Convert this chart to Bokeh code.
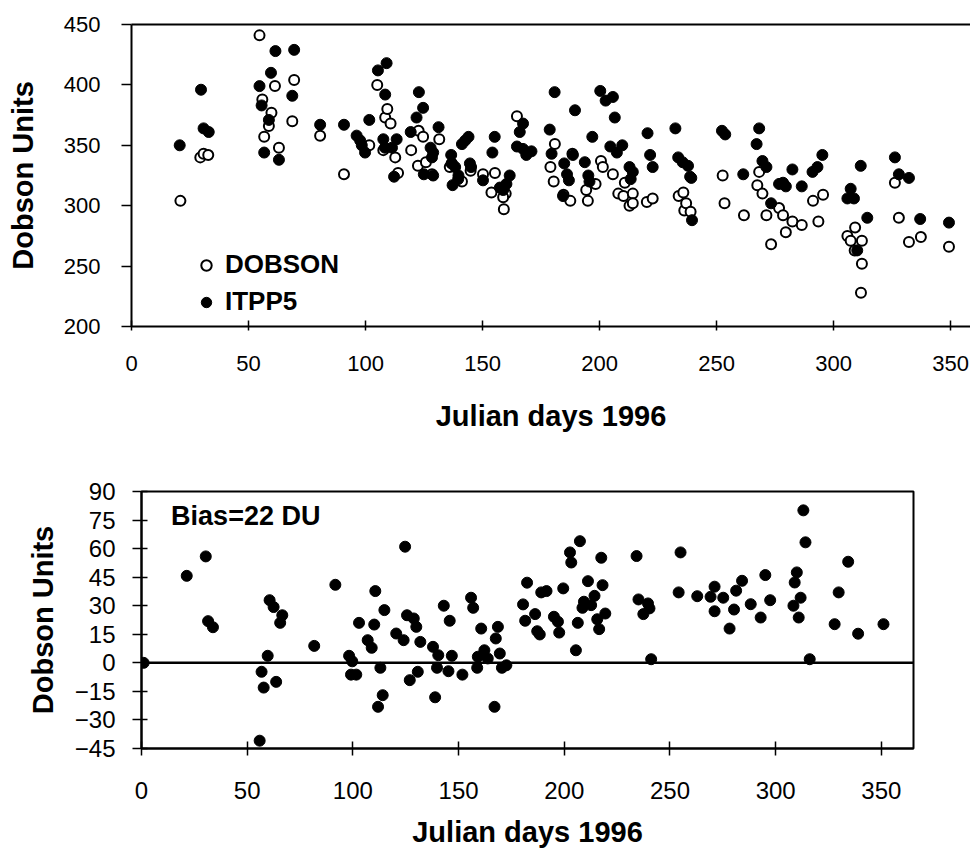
from bokeh.plotting import figure
from bokeh.models import (ColumnDataSource, FixedTicker, Legend, LegendItem,
                          LinearAxis, Span, Label, Range1d)
from bokeh.embed import file_html
from bokeh.resources import INLINE

# ---------------- data ----------------
dobson_day = [20.9, 29.4, 30.8, 32.8, 54.7, 55.9, 56.7, 58.7, 59.8, 61.3, 63.0, 68.7, 69.5,
              80.6, 90.8, 101.6, 105.0, 107.6, 108.4, 109.3, 110.7, 112.7, 113.9, 119.5,
              122.4, 122.7, 124.6, 125.8, 128.4, 131.5, 136.0, 136.9, 141.2, 144.9, 150.2,
              153.8, 155.3, 159.1, 159.9, 158.8, 164.7, 179.0, 180.4, 180.9, 184.6, 187.5, 188.4,
              194.3, 195.0, 198.3, 200.6, 201.4, 205.7, 208.0, 210.2, 210.8, 212.8, 214.2,
              214.2, 220.2, 222.7, 233.8, 235.8, 236.2, 237.0, 238.9, 252.6, 253.4, 261.7,
              267.4, 268.2, 269.6, 271.3, 273.3, 276.7, 278.4, 279.6, 282.4, 286.4, 291.2,
              293.5, 295.5, 305.9, 307.3, 309.0, 309.2, 311.7, 312.1, 312.1, 326.2, 327.9,
              332.2, 337.3, 349.3]
dobson_du = [304, 340, 343, 342, 441, 388, 357, 366, 377, 399, 348, 370, 404,
             358, 326, 350, 400, 346, 373, 380, 368, 340, 327, 346,
             333, 362, 357, 336, 326, 355, 332, 335, 320, 329, 326,
             311, 327, 297, 310, 307, 374, 332, 320, 351, 309, 304, 343,
             313, 304, 318, 337, 332, 326, 310, 308, 319, 300, 310,
             302, 303, 306, 308, 311, 296, 302, 295, 325, 302, 292,
             317, 328, 310, 292, 268, 298, 292, 278, 287, 284, 304,
             287, 309, 275, 271, 263, 282, 228, 271, 252, 319, 290,
             270, 274, 266]

itpp5_day = [20.6, 29.7, 30.8, 33.0, 54.7, 55.6, 56.7, 58.7, 59.6, 61.5, 63.0, 68.7, 69.5,
             80.6, 90.8, 96.2, 97.7, 98.4, 99.8, 101.6, 105.3, 107.6, 108.3, 108.4, 109.0,
             111.3, 112.2, 113.3, 119.3, 121.8, 122.8, 124.6, 124.9, 127.8, 128.4, 128.9,
             128.9, 131.2, 136.6, 136.8, 137.2, 138.3, 139.6, 139.7, 141.2, 142.6, 144.0,
             144.6, 145.1, 150.2, 154.2, 155.2, 157.4, 158.8, 160.2, 161.6, 164.7, 165.9,
             167.3, 167.3, 168.7, 170.9, 178.7, 179.5, 180.8, 184.4, 184.9, 186.1, 186.9,
             188.6, 189.5, 193.7, 195.2, 195.7, 196.9, 200.3, 202.6, 204.6, 205.7, 206.5,
             207.4, 209.7, 212.8, 213.3, 214.2, 220.5, 221.6, 222.7, 232.4, 233.6, 235.5,
             237.8, 238.7, 239.2, 239.5, 252.3, 253.7, 261.4, 267.1, 268.2, 269.6, 271.3,
             273.3, 276.7, 278.4, 279.6, 282.4, 286.4, 291.0, 293.1, 295.2, 305.9, 307.3,
             308.7, 310.1, 311.6, 314.4, 326.2, 327.9, 332.2, 337.0, 349.3]
itpp5_du = [350, 396, 364, 361, 399, 383, 344, 371, 410, 428, 338, 391, 429,
            367, 367, 358, 354, 350, 344, 371, 412, 355, 348, 392, 418,
            348, 324, 355, 361, 373, 394, 381, 326, 348, 340, 344,
            325, 365, 342, 335, 317, 332, 322, 325, 351, 354, 357,
            335, 332, 321, 344, 357, 315, 313, 318, 325, 349, 361,
            368, 347, 342, 345, 363, 343, 394, 308, 335, 326, 321,
            342, 379, 336, 325, 320, 357, 395, 387, 349, 390, 373,
            344, 350, 332, 322, 328, 360, 342, 332, 364, 340, 336,
            333, 324, 323, 288, 362, 359, 326, 351, 364, 337, 332,
            302, 318, 319, 316, 330, 316, 328, 332, 342, 306, 314,
            306, 263, 333, 290, 340, 326, 323, 289, 286]

bias_day = [1, 21.4, 30.4, 31.5, 33.8, 55.9, 56.8, 57.8, 59.7, 60.6, 62.5, 63.7, 65.6, 66.6,
            81.7, 91.7, 98.2, 99.1, 99.7, 101.6, 102.9, 107.0, 108.9, 110.1, 110.6, 111.9,
            113.0, 114.1, 114.9, 120.5, 124.0, 124.7, 125.6, 126.9, 128.8, 130.0, 130.7,
            131.9, 137.9, 138.9, 139.8, 140.4, 143.0, 145.2, 145.8, 146.8, 151.8, 155.9,
            156.9, 158.8, 159.1, 160.7, 162.2, 163.8, 167.0, 167.6, 168.6, 169.5, 170.5,
            172.6, 180.5, 181.5, 182.4, 186.2, 187.2, 188.4, 189.1, 191.6, 195.1, 197.0,
            197.6, 199.5, 202.7, 203.3, 205.5, 206.4, 207.4, 208.6, 209.3, 211.2, 212.7,
            214.3, 215.6, 216.5, 217.5, 218.1, 219.4, 234.2, 235.1, 237.4, 239.6, 240.3,
            241.1, 254.1, 255.0, 262.9, 269.2, 271.1, 271.1, 275.2, 278.2, 280.3, 281.3,
            284.1, 288.2, 292.9, 295.1, 297.4, 308.4, 309.0, 310.0, 310.9, 311.8, 313.1,
            314.1, 316.1, 327.9, 329.8, 334.3, 339.0, 351.0]
bias_du = [0, 45.7, 55.9, 21.9, 18.7, -40.9, -4.7, -13.0, 3.7, 32.9, 29.3, -10.0, 21.0, 25.0,
           8.9, 41.0, 3.7, -6.2, 0.8, -6.2, 21.0, 11.9, 7.9, 20.1, 37.7, -23.1,
           -2.6, -17.0, 27.7, 15.4, 11.9, 61.0, 25.0, -9.1, 23.3, 18.9, -4.7,
           11.0, 8.4, -18.1, -2.6, 4.0, 30.0, -4.4, 22.1, 3.7, -6.2, 34.2,
           28.9, -2.6, 3.2, 18.0, 6.6, 2.3, -23.1, 12.8, 18.9, 4.9, -2.6,
           -1.3, 30.7, 22.1, 42.1, 25.6, 16.6, 14.9, 37.0, 37.7, 24.2, 21.6,
           15.9, 39.1, 58.0, 52.7, 6.6, 21.0, 63.9, 28.9, 32.1, 42.9, 30.3,
           35.2, 22.9, 17.7, 55.2, 40.8, 25.9, 56.1, 33.3, 25.6, 31.2, 28.6,
           1.9, 37.0, 58.0, 35.0, 34.7, 40.0, 27.1, 34.2, 18.0, 28.0, 37.9,
           43.1, 30.8, 23.8, 46.1, 32.9, 30.0, 42.2, 47.5, 23.8, 34.2, 80.1,
           63.3, 1.9, 20.3, 37.0, 53.1, 15.3, 20.3]

x_ticks = [0, 50, 100, 150, 200, 250, 300, 350]
top_y_ticks = [200, 250, 300, 350, 400, 450]
bot_y_ticks = [-45, -30, -15, 0, 15, 30, 45, 60, 75, 90]
series_names = ["DOBSON", "ITPP5"]
x_title = "Julian days 1996"
y_title = "Dobson Units"
bias_text = "Bias=22 DU"

FONT = "Liberation Sans"


def style_axis(ax, size, title_size, tick_in, tick_out, standoff, title_standoff):
    ax.major_label_text_font = FONT
    ax.major_label_text_font_size = size
    ax.major_label_text_color = "black"
    ax.axis_label_text_font = FONT
    ax.axis_label_text_font_size = title_size
    ax.axis_label_text_font_style = "bold"
    ax.axis_label_text_color = "black"
    ax.axis_line_color = "black"
    ax.axis_line_width = 2
    ax.major_tick_line_color = "black"
    ax.major_tick_line_width = 1.5
    ax.major_tick_in = tick_in
    ax.major_tick_out = tick_out
    ax.minor_tick_line_color = None
    ax.major_label_standoff = standoff
    ax.axis_label_standoff = title_standoff


# ---------------- top panel ----------------
p1 = figure(width=970, height=436, x_range=Range1d(0, 358.5), y_range=Range1d(200, 450),
            output_backend="svg", toolbar_location=None,
            min_border_left=131, min_border_right=0, min_border_top=24, min_border_bottom=110)
p1.outline_line_color = None
p1.xgrid.visible = False
p1.ygrid.visible = False

src_d = ColumnDataSource(dict(x=dobson_day, y=dobson_du))
src_i = ColumnDataSource(dict(x=itpp5_day, y=itpp5_du))
r_d = p1.scatter("x", "y", source=src_d, marker="circle", size=10,
                 fill_color="white", line_color="black", line_width=2)
r_i = p1.scatter("x", "y", source=src_i, marker="circle", size=11,
                 fill_color="black", line_color="black", line_width=1)

p1.xaxis.ticker = FixedTicker(ticks=x_ticks)
p1.yaxis.ticker = FixedTicker(ticks=top_y_ticks)
p1.xaxis.axis_label = x_title
p1.yaxis.axis_label = y_title
style_axis(p1.xaxis[0], "22px", "29px", 6, 4, 25, 26)
style_axis(p1.yaxis[0], "22px", "29px", 0, 10, 21, 22)

top_ax = LinearAxis(ticker=FixedTicker(ticks=[]), major_label_text_font_size="0px",
                    major_tick_in=0, major_tick_out=0, major_label_standoff=0,
                    axis_line_color="black", axis_line_width=2)
p1.add_layout(top_ax, "above")

legend = Legend(items=[LegendItem(label=series_names[0], renderers=[r_d]),
                       LegendItem(label=series_names[1], renderers=[r_i])],
                location=(62, 9), padding=0, margin=0, spacing=6,
                glyph_width=26, glyph_height=30, label_height=30, label_standoff=6,
                label_text_font=FONT, label_text_font_size="26px",
                label_text_font_style="bold", label_text_color="black",
                border_line_color=None, background_fill_alpha=0)
p1.add_layout(legend)

# ---------------- bottom panel ----------------
p2 = figure(width=953, height=417, x_range=Range1d(0, 365.2), y_range=Range1d(-45, 90),
            output_backend="svg", toolbar_location=None,
            min_border_left=141, min_border_right=40, min_border_top=55, min_border_bottom=105)
p2.outline_line_color = "black"
p2.outline_line_width = 2
p2.xgrid.visible = False
p2.ygrid.visible = False

p2.add_layout(Span(location=0, dimension="width", line_color="black", line_width=2.5))
src_b = ColumnDataSource(dict(x=bias_day, y=bias_du))
p2.scatter("x", "y", source=src_b, marker="circle", size=11,
           fill_color="black", line_color="black")

p2.xaxis.ticker = FixedTicker(ticks=x_ticks)
p2.yaxis.ticker = FixedTicker(ticks=bot_y_ticks)
p2.xaxis.axis_label = x_title
p2.yaxis.axis_label = y_title
style_axis(p2.xaxis[0], "24px", "29px", 7, 7, 26, 14)
style_axis(p2.yaxis[0], "24px", "29px", 6, 9, 17, 13)

p2.add_layout(Label(x=14, y=77, text=bias_text, text_font=FONT, text_font_size="27px",
                    text_font_style="bold", text_baseline="middle", text_color="black"))

open("out.html", "w").write(file_html([p1, p2], INLINE))
